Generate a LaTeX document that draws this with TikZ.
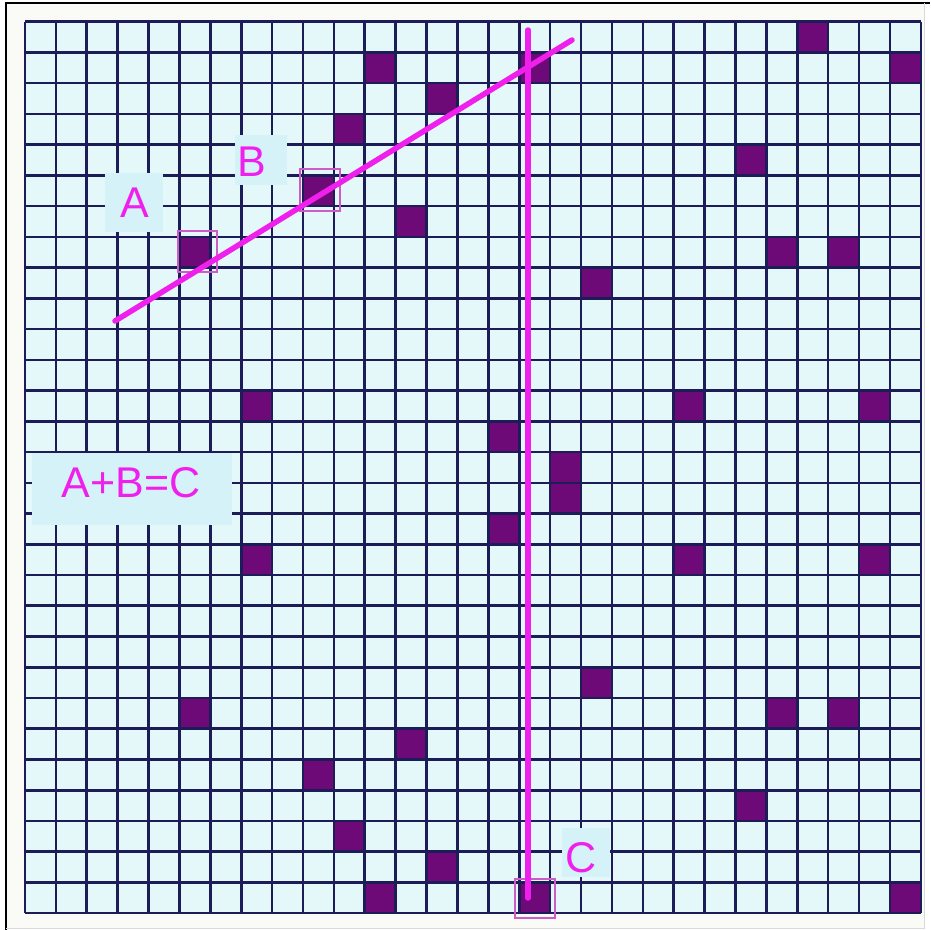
\documentclass[tikz,border=0pt]{standalone}
\usepackage{fontspec}
\setmainfont{Liberation Sans}
\definecolor{cellbg}{HTML}{E4F7F9}
\definecolor{gridc}{HTML}{1C1C58}
\definecolor{darkc}{HTML}{6E0A78}
\definecolor{magc}{HTML}{F020EC}
\definecolor{boxc}{HTML}{D4F2F7}
\definecolor{outc}{HTML}{CC5CC8}
\tikzset{
  gridline/.style={draw=gridc,line width=2.6pt},
  darkcell/.style={fill=darkc},
  magline/.style={draw=magc,line width=5.5pt,line cap=round},
  labelbox/.style={fill=boxc},
  labeltext/.style={text=magc,font=\fontsize{43}{43}\selectfont,inner sep=0pt},
  outline/.style={draw=outc,line width=2pt}
}
\begin{document}
\begin{tikzpicture}[x=1pt,y=-1pt]
\useasboundingbox (0,0) rectangle (930,930);
\fill[white] (0,0) rectangle (930,930);
\fill[color={rgb,255:red,250;green,250;blue,246}] (7,4) rectangle (925,928);
\draw[black,line width=2.5pt] (6,930) -- (6,3) -- (930,3);
\draw[gray!30,line width=1pt] (924.5,3) -- (924.5,928.5) -- (6,928.5);
\def\cw{30.89}
\def\ch{30.74}
\fill[cellbg] (25,21.7) rectangle (920.8,913.2);
\foreach \c/\r in {11/1,13/2,10/3,9/5,12/6,5/7,16/1,25/0,28/1,23/4,24/7,26/7,18/8,
  7/12,21/12,27/12,15/13,17/14,17/15,15/16,7/17,21/17,27/17,18/21,5/22,24/22,26/22,
  12/23,9/24,23/25,10/26,13/27,11/28,16/28,28/28}
  \fill[darkcell] ({25+\c*\cw},{21.7+\r*\ch}) rectangle ++(\cw,\ch);
\foreach \i in {0,...,29} {
  \draw[gridline] ({25+\i*\cw},21.7) -- ({25+\i*\cw},913.2);
  \draw[gridline] (25,{21.7+\i*\ch}) -- (920.8,{21.7+\i*\ch});
}
% label boxes
\fill[labelbox] (105,173) rectangle (163,232);
\fill[labelbox] (235,135) rectangle (287,185);
\fill[labelbox] (562,828) rectangle (610,877);
\fill[labelbox] (32,453) rectangle (232,525);
\node[labeltext] (A) at (135,203) {A};
\node[labeltext] (B) at (252,162) {B};
\node[labeltext] (C) at (581,858) {C};
\node[labeltext] (sum) at (131,483) {A+B=C};
% outlines of marked cells
\draw[outline] (178,231) rectangle (217,272);
\draw[outline] (300,169) rectangle (340,211);
\draw[outline] (515,879) rectangle (555,918);
% lines
\coordinate (d1) at (115,321);
\coordinate (d2) at (572,40);
\coordinate (v1) at (528,30);
\coordinate (v2) at (528,898);
\draw[magline] (d1) -- (d2);
\draw[magline] (v1) -- (v2);
\end{tikzpicture}
\end{document}
